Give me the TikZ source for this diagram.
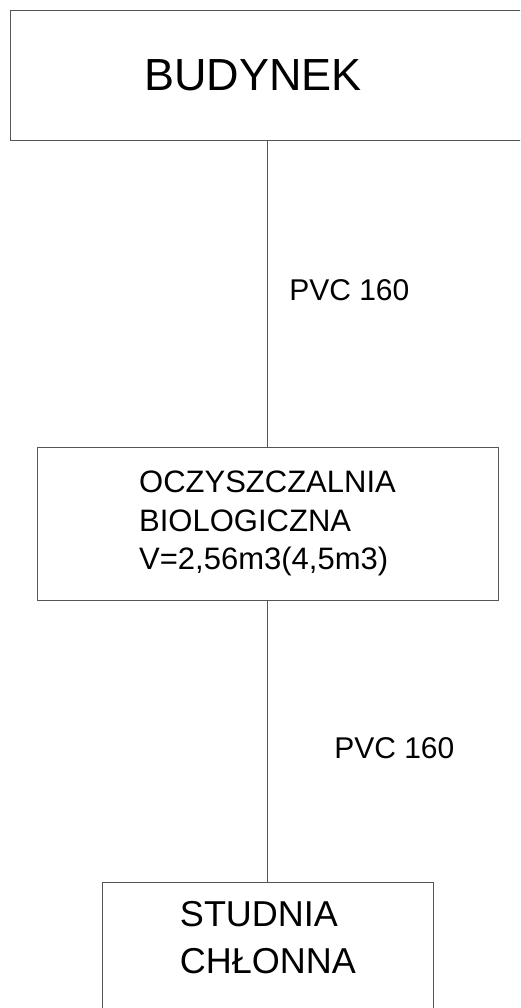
\documentclass[tikz,border=0pt]{standalone}
\usepackage{fontspec}
\setmainfont{Liberation Sans}
\usetikzlibrary{positioning}
\definecolor{edge}{HTML}{555555}

\begin{document}
\begin{tikzpicture}[x=1pt,y=1pt,
    box/.style={draw=edge,line width=0.9pt,rectangle,inner sep=0pt},
    pipe/.style={draw=edge,line width=0.9pt},
    pvc/.style={font=\fontsize{30}{36}\selectfont}]
    \useasboundingbox (0,0) rectangle (520,-1008);
    \clip (0,0) rectangle (520,-1008);
    % budynek
    \node[box,minimum width=520,minimum height=130] (budynek) at (270,-75) {};
    \node[font=\fontsize{45}{54}\selectfont] (budynektxt) at (253,-75) {BUDYNEK};
    % oczyszczalnia
    \node[box,minimum width=461,minimum height=153,align=left,
        font=\fontsize{31}{38.5}\selectfont] (oczysz) at (267.5,-523.5)
        {OCZYSZCZALNIA\\BIOLOGICZNA\\V=2,56m3(4,5m3)};
    % studnia
    \node[box,minimum width=331,minimum height=160] (studnia) at (267.5,-962) {};
    \node[align=left,font=\fontsize{36}{47}\selectfont] (studniatxt) at (268,-938)
        {STUDNIA\\CHŁONNA};
    % rury
    \draw[pipe] (oczysz.north) -- node[pvc,right=18pt,yshift=3pt]{PVC 160} (oczysz.north |- budynek.south);
    \draw[pipe] (oczysz.south) -- node[pvc,right=63pt,yshift=-7pt]{PVC 160} (oczysz.south |- studnia.north);
\end{tikzpicture}
\end{document}
